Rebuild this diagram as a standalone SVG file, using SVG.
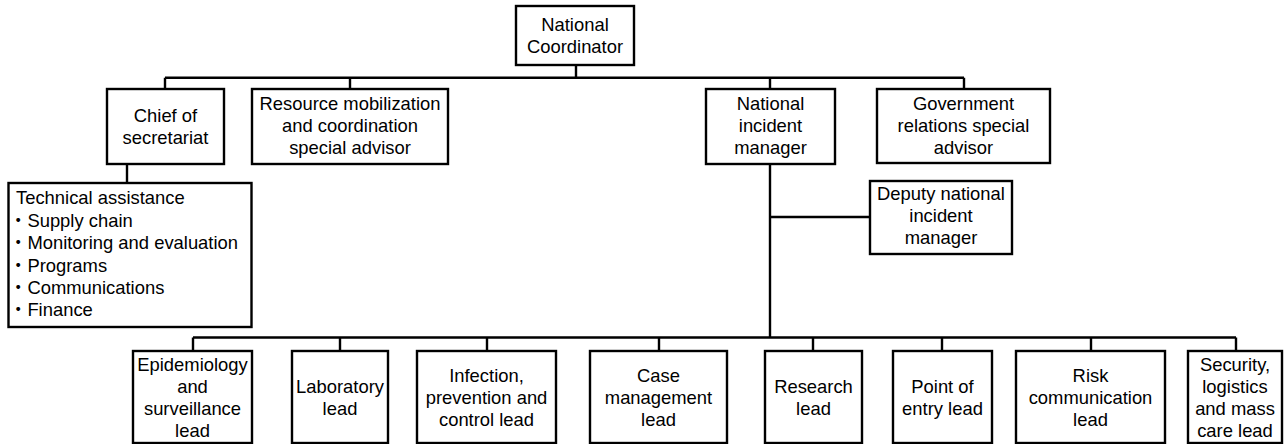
<svg xmlns="http://www.w3.org/2000/svg" width="1284" height="444" viewBox="0 0 1284 444">
<style>
.box{fill:#fff;stroke:#000;stroke-width:2.4}
.t{font-family:"Liberation Sans","Noto Sans CJK JP",sans-serif;font-size:18.4px;fill:#000;text-anchor:middle}
.l{text-anchor:start}
.c{fill:none;stroke:#000;stroke-width:2.4}
</style>
<rect width="1284" height="444" fill="#fff"/>
<g id="connectors" class="c">
<path d="M576 65V77.7M165 77.7H964M165 77.7V89M350 77.7V89M770 77.7V89M964 77.7V89"/>
<path d="M127 164V183"/>
<path d="M770 164V337.5M770 217H870"/>
<path d="M193 337.5H1236M193 337.5V351M340 337.5V351M487 337.5V351M659 337.5V351M813 337.5V351M942 337.5V351M1091 337.5V351M1236 337.5V351"/>
</g>
<g id="coordinator"><rect class="box" x="516" y="6" width="118" height="59"/>
<text class="t" x="575" y="31">National</text><text class="t" x="575" y="53">Coordinator</text></g>
<g id="chief"><rect class="box" x="107" y="89" width="117" height="75"/>
<text class="t" x="165.5" y="122">Chief of</text><text class="t" x="165.5" y="144">secretariat</text></g>
<g id="resource"><rect class="box" x="252" y="89" width="196" height="75"/>
<text class="t" x="350" y="110">Resource mobilization</text><text class="t" x="350" y="132">and coordination</text><text class="t" x="350" y="154">special advisor</text></g>
<g id="nim"><rect class="box" x="706" y="89" width="129" height="75"/>
<text class="t" x="770.5" y="110">National</text><text class="t" x="770.5" y="132">incident</text><text class="t" x="770.5" y="154">manager</text></g>
<g id="gov"><rect class="box" x="877" y="89" width="173" height="74"/>
<text class="t" x="963.5" y="110">Government</text><text class="t" x="963.5" y="132">relations special</text><text class="t" x="963.5" y="154">advisor</text></g>
<g id="technical"><rect class="box" x="8.5" y="183" width="243" height="144"/>
<text class="t l" x="16" y="204">Technical assistance</text>
<text class="t l" x="9" y="227">・Supply chain</text>
<text class="t l" x="9" y="249">・Monitoring and evaluation</text>
<text class="t l" x="9" y="272">・Programs</text>
<text class="t l" x="9" y="294">・Communications</text>
<text class="t l" x="9" y="316">・Finance</text></g>
<g id="deputy"><rect class="box" x="870" y="181" width="142" height="73"/>
<text class="t" x="941" y="200">Deputy national</text><text class="t" x="941" y="222">incident</text><text class="t" x="941" y="244">manager</text></g>
<g id="epi"><rect class="box" x="133" y="351" width="119" height="92"/>
<text class="t" x="192.5" y="371">Epidemiology</text><text class="t" x="192.5" y="393">and</text><text class="t" x="192.5" y="415">surveillance</text><text class="t" x="192.5" y="437">lead</text></g>
<g id="lab"><rect class="box" x="292" y="351" width="96" height="92"/>
<text class="t" x="340" y="393">Laboratory</text><text class="t" x="340" y="415">lead</text></g>
<g id="ipc"><rect class="box" x="417" y="351" width="139" height="92"/>
<text class="t" x="486.5" y="382">Infection,</text><text class="t" x="486.5" y="404">prevention and</text><text class="t" x="486.5" y="426">control lead</text></g>
<g id="case"><rect class="box" x="590" y="351" width="137" height="92"/>
<text class="t" x="658.5" y="382">Case</text><text class="t" x="658.5" y="404">management</text><text class="t" x="658.5" y="426">lead</text></g>
<g id="research"><rect class="box" x="765" y="351" width="97" height="92"/>
<text class="t" x="813.5" y="393">Research</text><text class="t" x="813.5" y="415">lead</text></g>
<g id="poe"><rect class="box" x="893" y="351" width="99" height="92"/>
<text class="t" x="942.5" y="393">Point of</text><text class="t" x="942.5" y="415">entry lead</text></g>
<g id="risk"><rect class="box" x="1016" y="351" width="149" height="92"/>
<text class="t" x="1090.5" y="382">Risk</text><text class="t" x="1090.5" y="404">communication</text><text class="t" x="1090.5" y="426">lead</text></g>
<g id="security"><rect class="box" x="1188" y="351" width="94" height="92"/>
<text class="t" x="1235" y="371">Security,</text><text class="t" x="1235" y="393">logistics</text><text class="t" x="1235" y="415">and mass</text><text class="t" x="1235" y="437">care lead</text></g>
</svg>
